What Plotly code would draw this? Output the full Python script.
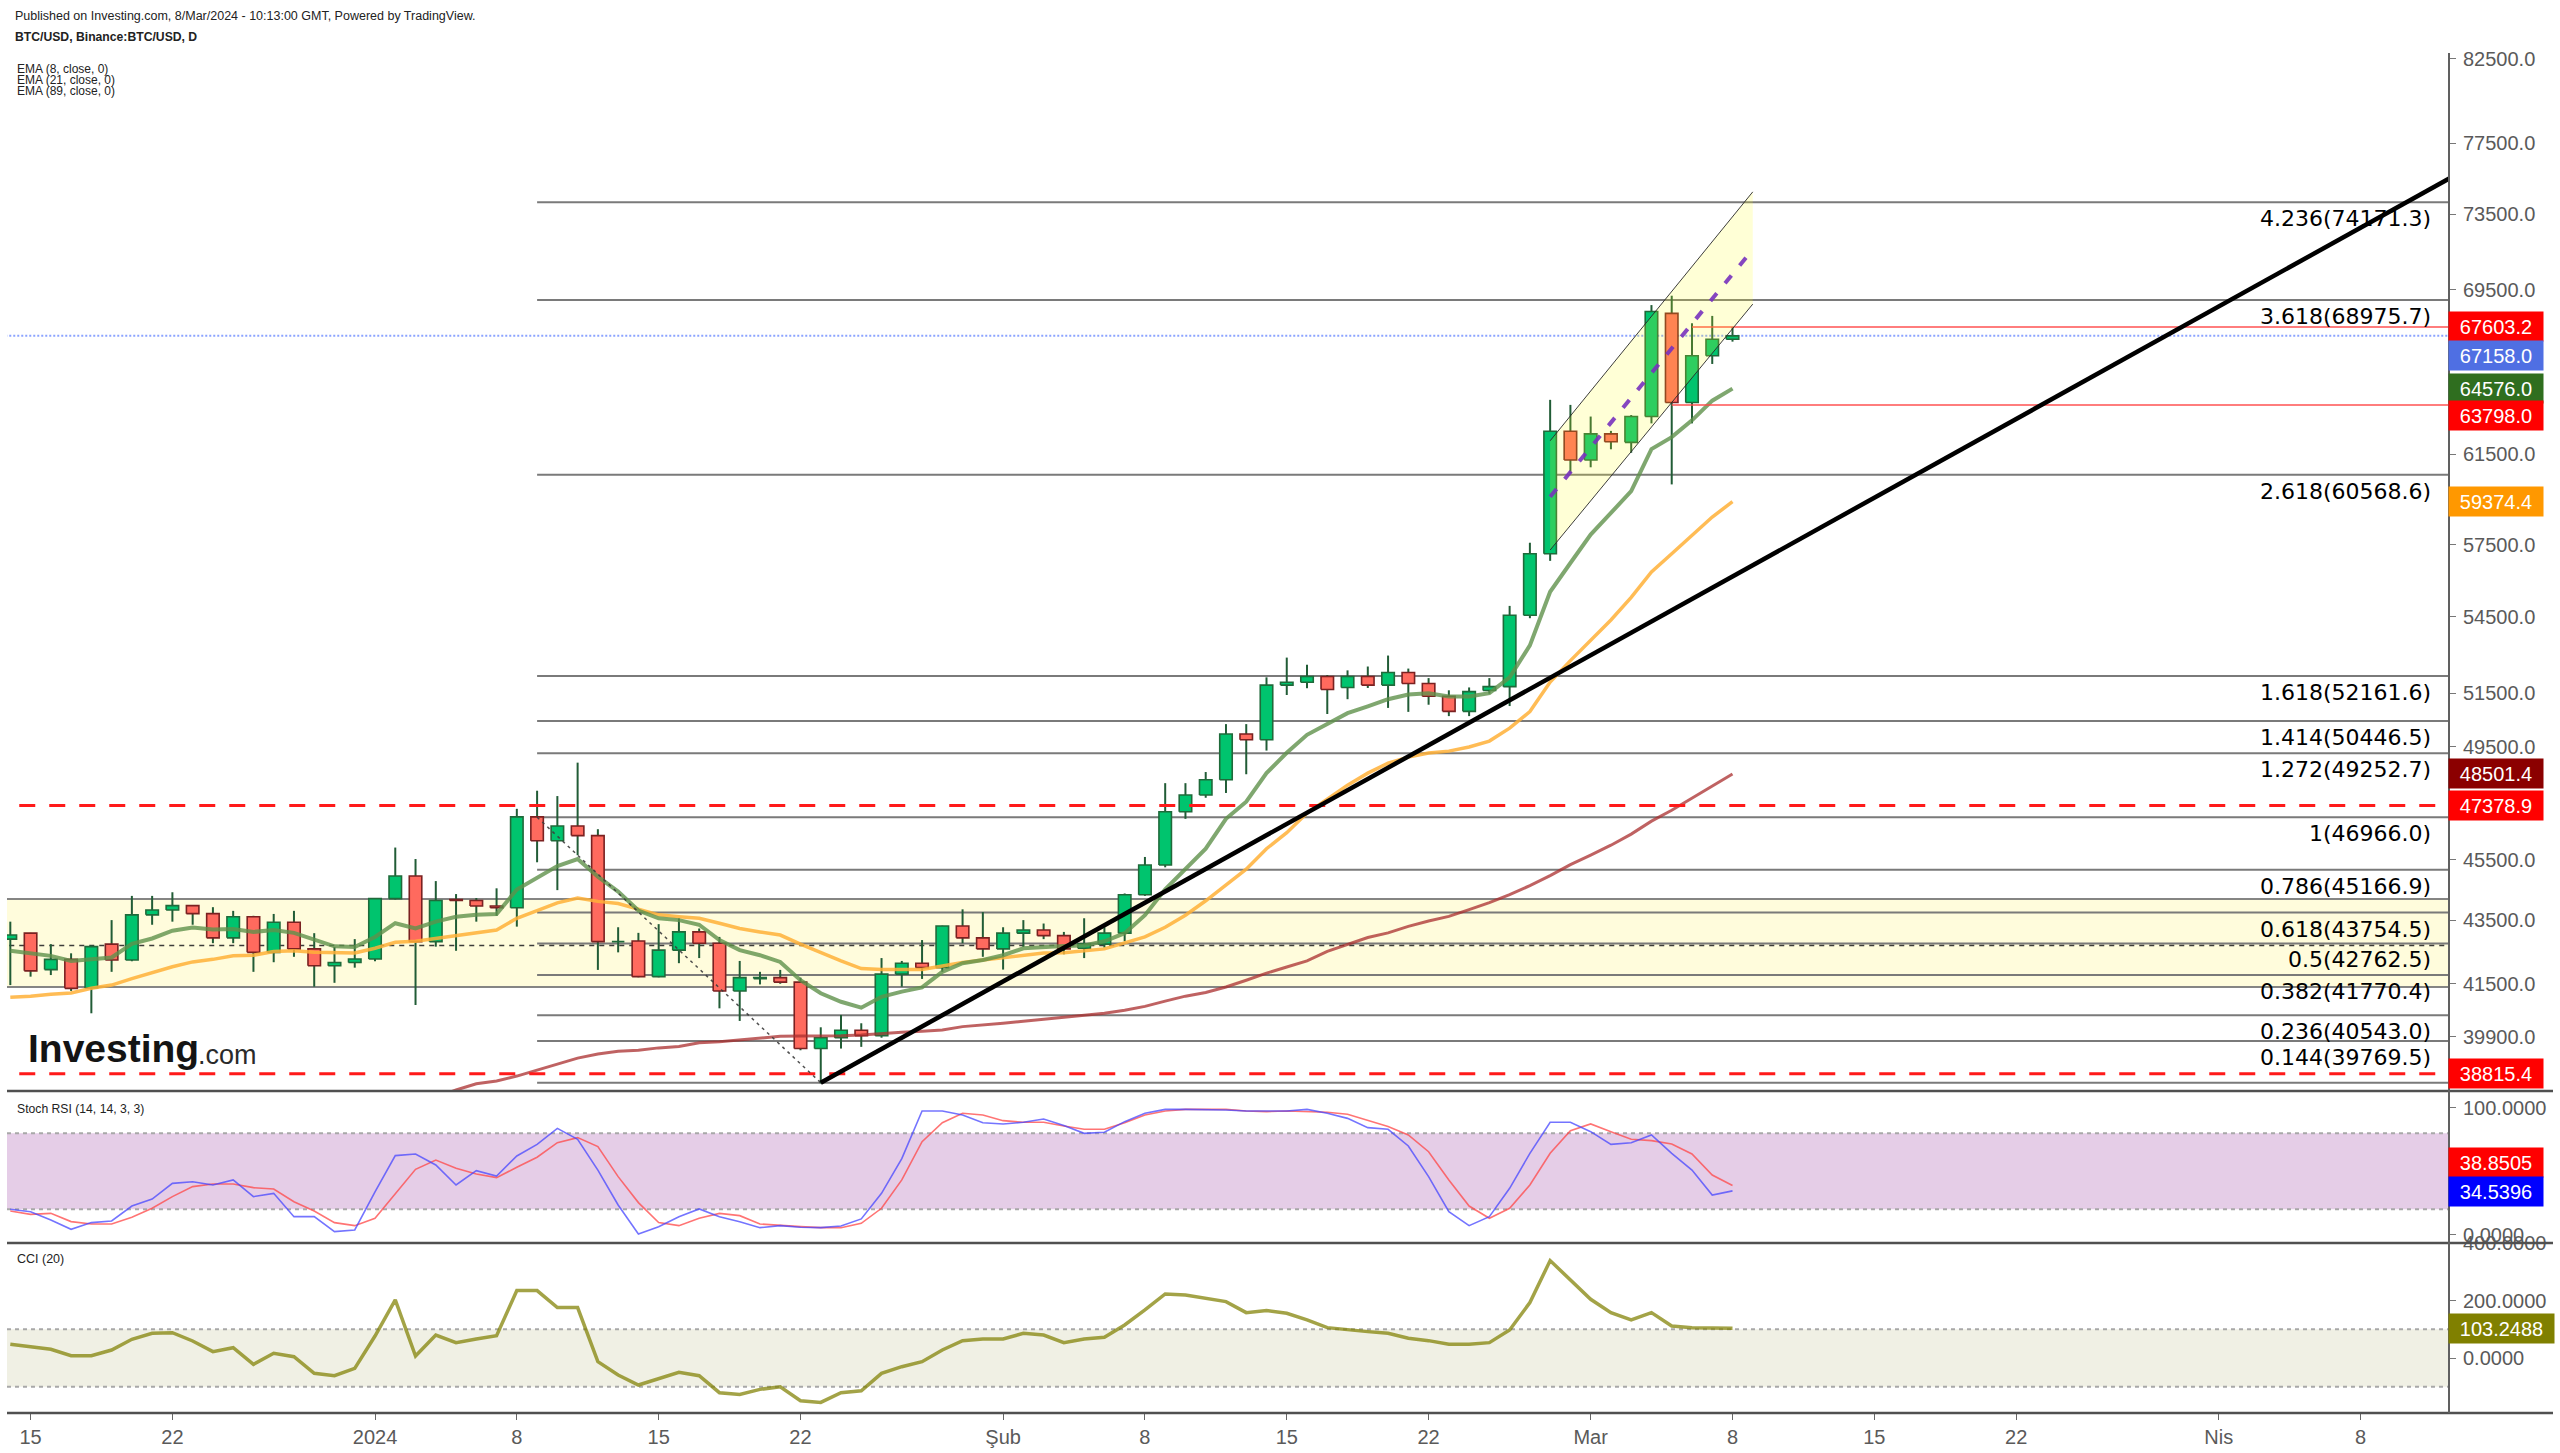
import math
import numpy as np
import pandas as pd
import plotly.graph_objects as go

W, H = 2560, 1453

# ---------------- data ----------------
dates = pd.date_range('2023-12-14', '2024-03-08', freq='D')

open_ = [42900, 43090, 41940, 42260, 41370, 42740, 42240, 43680, 43840, 43980,
         43720, 42940, 43620, 42480, 43440, 42590, 42060, 42160, 42270, 44210,
         44960, 42820, 44180, 44150, 43970, 43910, 46980, 46150, 46660, 46330,
         42820, 42840, 41720, 42550, 43130, 42770, 41280, 41660, 41690, 41550,
         39550, 39870, 40090, 39930, 41800, 42140, 42000, 43320, 42940, 42590,
         43090, 43190, 43010, 42610, 42740, 43090, 44340, 45330, 47160, 47750,
         48290, 49960, 49750, 51810, 51920, 52140, 51720, 52140, 51810, 52300,
         51870, 51380, 50810, 51600, 51750, 54570, 57120, 62560, 61240, 62440,
         62050, 63250, 68290, 63910, 66170, 66990]
high = [43460, 43100, 42740, 42450, 42700, 43510, 44300, 44300, 44420, 44000,
        43930, 43810, 43650, 43710, 43810, 43090, 42650, 42900, 44230, 45920,
        45530, 44790, 44360, 44230, 44550, 47260, 47900, 47710, 48910, 46550,
        43280, 43100, 43380, 43570, 43240, 42970, 42210, 41870, 41930, 41690,
        40180, 40550, 40300, 42300, 42210, 42870, 43330, 43860, 43770, 43280,
        43510, 43400, 43130, 43570, 43280, 44380, 45600, 48170, 48170, 48570,
        50330, 50330, 52110, 52880, 52600, 52200, 52380, 52530, 52960, 52450,
        52080, 51610, 51720, 52080, 54950, 57590, 64040, 63800, 63250, 62580,
        63320, 68710, 69190, 67790, 68160, 67603]
low = [41460, 41720, 41770, 41280, 40600, 41870, 42200, 43360, 43460, 43360,
       42770, 42770, 41870, 42170, 42340, 41410, 41530, 42000, 42200, 44180,
       40850, 42660, 42530, 43460, 43650, 43300, 45420, 44490, 45660, 41930,
       42480, 41700, 41700, 42140, 42300, 40750, 40370, 41480, 41500, 39500,
       38540, 39550, 39600, 39870, 41410, 41650, 41870, 42770, 42340, 41940,
       42650, 42900, 42420, 42300, 42630, 42830, 44300, 45250, 46910, 47650,
       47820, 48490, 49350, 51430, 51690, 50710, 51270, 51700, 50940, 50790,
       51060, 50630, 50630, 51480, 51010, 54450, 56820, 60640, 60910, 61730,
       61570, 62930, 60140, 62930, 65770, 66870]
close = [43030, 41900, 42260, 41360, 42660, 42240, 43680, 43840, 43980, 43720,
         42940, 43620, 42480, 43440, 42590, 42060, 42160, 42270, 44210, 44960,
         42820, 44150, 44150, 43970, 43910, 46980, 46150, 46660, 46330, 42820,
         42840, 41720, 42550, 43130, 42770, 41280, 41690, 41690, 41550, 39550,
         39870, 40090, 39930, 41800, 42140, 42000, 43320, 42940, 42590, 43090,
         43190, 43010, 42590, 42750, 43090, 44340, 45330, 47160, 47750, 48290,
         49960, 49750, 51810, 51920, 52140, 51640, 52140, 51810, 52300, 51870,
         51380, 50810, 51560, 51750, 54570, 57120, 62560, 61240, 62440, 62080,
         63250, 68380, 63910, 66170, 66990, 67158]

ema8 = [42530, 42450, 42370, 42210, 42260, 42320, 42750, 42920, 43170, 43270,
        43210, 43220, 43130, 43190, 43100, 42870, 42670, 42650, 42970, 43410,
        43240, 43460, 43620, 43680, 43710, 44510, 44890, 45290, 45530, 44940,
        44440, 43820, 43570, 43510, 43360, 42870, 42550, 42390, 42180, 41610,
        41210, 40950, 40770, 41100, 41260, 41390, 41870, 42140, 42240, 42390,
        42610, 42660, 42680, 42700, 42830, 43090, 43670, 44520, 45190, 45880,
        46910, 47510, 48530, 49270, 49930, 50330, 50740, 51000, 51270, 51450,
        51500, 51370, 51370, 51500, 52110, 53360, 55530, 56730, 57940, 58880,
        59840, 61740, 62290, 63070, 64000, 64576]
ema21 = [41090, 41120, 41180, 41220, 41360, 41460, 41660, 41850, 42030, 42180,
         42260, 42370, 42390, 42510, 42530, 42480, 42460, 42460, 42610, 42800,
         42830, 42920, 43010, 43120, 43190, 43570, 43820, 44070, 44230, 44120,
         44050, 43850, 43680, 43620, 43570, 43410, 43240, 43130, 43030, 42740,
         42460, 42210, 41970, 41940, 41940, 41940, 42050, 42160, 42240, 42320,
         42390, 42460, 42470, 42530, 42590, 42780, 42970, 43280, 43670, 44140,
         44650, 45190, 45880, 46430, 47110, 47610, 48100, 48530, 48890, 49110,
         49260, 49330, 49480, 49700, 50180, 50800, 51930, 52760, 53560, 54380,
         55300, 56350, 57120, 57910, 58700, 59374]
ema89_dates = pd.date_range('2024-01-03', '2024-03-08', freq='D')
ema89 = [37950, 38160, 38350, 38530, 38610, 38750, 38920, 39100, 39270, 39390,
         39470, 39500, 39570, 39610, 39720, 39750, 39810, 39870, 39910, 39920,
         39920, 39930, 39950, 40000, 40030, 40060, 40100, 40200, 40240, 40300,
         40360, 40420, 40480, 40540, 40600, 40690, 40810, 40970, 41120, 41230,
         41400, 41610, 41830, 42020, 42210, 42510, 42730, 42950, 43100, 43310,
         43480, 43630, 43850, 44080, 44340, 44640, 44970, 45340, 45660, 46000,
         46380, 46830, 47210, 47630, 48060, 48501]

stoch_k = [20.0, 18.1, 11.6, 4.2, 9.5, 10.8, 22.6, 28.1, 40.5, 41.8,
           39.2, 43.2, 30.0, 32.6, 14.2, 14.2, 2.4, 3.7, 33.7, 62.4,
           63.7, 55.0, 39.2, 50.5, 46.3, 62.1, 71.3, 83.9, 75.3, 51.0,
           23.4, 0.5, 6.3, 14.2, 20.3, 14.2, 10.2, 5.5, 7.1, 5.8,
           5.5, 6.8, 12.4, 32.6, 60.0, 97.6, 97.6, 94.5, 88.4, 87.4,
           88.7, 91.3, 86.1, 80.0, 80.8, 89.2, 95.8, 98.9, 98.9, 98.9,
           98.4, 97.6, 97.6, 97.6, 98.9, 95.8, 91.8, 84.5, 83.2, 70.0,
           45.8, 18.1, 7.1, 14.2, 36.6, 64.2, 88.7, 88.7, 81.3, 71.3,
           72.6, 78.7, 64.2, 51.0, 31.3, 34.54]
stoch_d = [18.7, 16.0, 16.8, 10.3, 8.4, 8.4, 13.7, 20.8, 30.0, 37.9,
           40.0, 40.0, 37.1, 36.0, 26.0, 18.7, 9.5, 7.1, 12.9, 32.6,
           51.6, 58.9, 52.4, 47.9, 45.0, 53.2, 61.1, 72.6, 76.6, 69.5,
           45.8, 25.3, 9.5, 7.1, 12.9, 16.8, 15.0, 8.4, 7.1, 6.3,
           5.5, 5.5, 8.9, 20.8, 43.2, 73.4, 88.4, 95.8, 94.5, 90.0,
           88.7, 88.7, 85.8, 83.2, 83.2, 88.4, 94.5, 97.6, 98.9, 98.9,
           98.9, 97.6, 97.1, 97.6, 97.1, 96.6, 95.0, 90.0, 85.3, 78.7,
           65.5, 43.2, 22.6, 12.9, 20.8, 39.2, 64.2, 82.1, 87.4, 81.3,
           75.3, 74.2, 71.6, 63.7, 47.1, 38.85]
cci = [47.7, 39.5, 30.2, 8.1, 8.1, 27.9, 65.1, 86.0, 88.4, 59.3,
       22.1, 36.0, -22.1, 16.3, 4.7, -53.5, -61.6, -36.0, 76.7, 202.3,
       7.0, 80.2, 53.5, 66.3, 77.9, 234.9, 234.9, 175.6, 175.6, -12.8,
       -59.3, -94.2, -73.3, -50.0, -61.6, -120.9, -126.7, -109.3, -100.0, -148.8,
       -154.7, -120.9, -114.0, -53.5, -30.2, -12.8, 27.9, 60.5, 66.3, 66.3,
       86.0, 80.2, 53.5, 66.3, 72.1, 115.1, 167.4, 223.3, 219.8, 208.1,
       196.5, 158.1, 165.1, 155.8, 132.6, 105.8, 97.7, 91.9, 86.0, 68.6,
       60.5, 47.7, 47.7, 53.5, 97.7, 193.0, 339.5, 272.1, 204.7, 158.1,
       132.6, 158.1, 111.6, 105.8, 105.8, 103.25]

fib_labels = ['4.236(74171.3)', '3.618(68975.7)', '2.618(60568.6)', '1.618(52161.6)',
              '1.414(50446.5)', '1.272(49252.7)', '1(46966.0)', '0.786(45166.9)',
              '0.618(43754.5)', '0.5(42762.5)', '0.382(41770.4)', '0.236(40543.0)',
              '0.144(39769.5)', '0(38559.0)']
fib_values = [74171.3, 68975.7, 60568.6, 52161.6, 50446.5, 49252.7, 46966.0, 45166.9,
              43754.5, 42762.5, 41770.4, 40543.0, 39769.5, 38559.0]
fib_start = '2024-01-09'
far_left = '2023-12-10'
far_right = '2024-04-14'

red_dashed_levels = [47378.9, 38815.4]
last_price = 67158.0
recent_high, recent_high_start = 67603.2, '2024-03-06'
recent_low, recent_low_start = 63798.0, '2024-03-05'
dotted_level = 42700
box_low, box_high = 41400, 44200

trend_dates = ['2024-01-23', '2024-04-13']
trend_prices = [38559, 75880]
fib_diag_dates = ['2024-01-09', '2024-01-23']
fib_diag_prices = [46966, 38559]
chan_dates = ['2024-02-28', '2024-03-09']
chan_upper = [62120, 74740]
chan_lower = [57280, 68760]
chan_mid = [59590, 71610]

main_ticks = [82500, 77500, 73500, 69500, 61500, 57500, 54500, 51500, 49500, 45500, 43500, 41500, 39900]
x_tick_dates = ['2023-12-15', '2023-12-22', '2024-01-01', '2024-01-08', '2024-01-15', '2024-01-22',
                '2024-02-01', '2024-02-08', '2024-02-15', '2024-02-22', '2024-03-01', '2024-03-08',
                '2024-03-15', '2024-03-22', '2024-04-01', '2024-04-08']
x_tick_text = ['15', '22', '2024', '8', '15', '22', 'Şub', '8', '15', '22', 'Mar', '8', '15', '22', 'Nis', '8']

# price tags on right axis: (text, value at which tag is centred, bg colour)
tags_main = [('67603.2', 67603.2, '#ff0000'), ('67158.0', 66190, '#4f6fe3'),
             ('64576.0', 64576.0, '#2f6e1f'), ('63798.0', 63280, '#ff0000'),
             ('59374.4', 59374.4, '#ff9800'), ('48501.4', 48501.4, '#8b0000'),
             ('47378.9', 47378.9, '#ff0000'), ('38815.4', 38815.4, '#ff0000')]
tags_stoch = [('38.8505', 57.0, '#ff0000'), ('34.5396', 34.0, '#0000ff')]
tags_cci = [('103.2488', 103.25, '#808000')]

# ---------------- helpers ----------------
def yp(ypx):
    return 1 - ypx / H

X0, X1 = 7, 2449
xdom = [X0 / W, X1 / W]
AX = '#5a5a5a'
FONT = 'Liberation Sans, Arial, sans-serif'
BODY_HALF = pd.Timedelta(hours=7.4)   # half candle-body width (style)

fig = go.Figure()

def line_tr(x, y, color, width, dash='solid', xa='x', ya='y'):
    fig.add_trace(go.Scatter(x=x, y=y, mode='lines', line=dict(color=color, width=width, dash=dash),
                             xaxis=xa, yaxis=ya, hoverinfo='skip', showlegend=False))

# yellow zone box (behind)
fig.add_trace(go.Scatter(x=[far_left, far_right, far_right, far_left, far_left],
                         y=[box_low, box_low, box_high, box_high, box_low], fill='toself',
                         fillcolor='#fffcdc', line=dict(color='rgba(120,120,120,0.9)', width=2),
                         mode='lines', hoverinfo='skip', showlegend=False))

# fib levels
for v in fib_values:
    line_tr([fib_start, far_right], [v, v], 'rgba(115,115,115,0.95)', 2)

# dotted horizontal and blue last price
line_tr([far_left, far_right], [dotted_level, dotted_level], 'rgba(40,40,40,0.9)', 1.5, '5px,5px')
line_tr([far_left, far_right], [last_price, last_price], 'rgba(110,140,255,0.8)', 2, '2px,2px')

# wicks
wx, wy = [], []
for d, lo, hi in zip(dates, low, high):
    wx += [d, d, None]
    wy += [lo, hi, None]
fig.add_trace(go.Scatter(x=wx, y=wy, mode='lines', line=dict(color='#215c36', width=2),
                         hoverinfo='skip', showlegend=False))

# bodies as filled rectangles
for up, fill, edge in ((True, '#00c46e', '#1f6a3a'), (False, '#ff6a5e', '#7a2121')):
    bx, by = [], []
    for d, o, c in zip(dates, open_, close):
        if (c >= o) != up:
            continue
        lo, hi = min(o, c), max(o, c)
        bx += [d - BODY_HALF, d + BODY_HALF, d + BODY_HALF, d - BODY_HALF, d - BODY_HALF, None]
        by += [lo, lo, hi, hi, lo, None]
    fig.add_trace(go.Scatter(x=bx, y=by, mode='lines', fill='toself', fillcolor=fill,
                             line=dict(color=edge, width=1.6), hoverinfo='skip', showlegend=False))

# EMAs
line_tr(ema89_dates, ema89, 'rgba(170,45,45,0.75)', 3)
line_tr(dates, ema21, 'rgba(255,176,55,0.85)', 3.5)
line_tr(dates, ema8, 'rgba(95,145,75,0.8)', 4)

# red dashed + recent levels
for v in red_dashed_levels:
    line_tr([far_left, far_right], [v, v], '#ff1a1a', 3, '16px,14px')
line_tr([recent_high_start, far_right], [recent_high, recent_high], 'rgba(255,70,70,0.7)', 2)
line_tr([recent_low_start, far_right], [recent_low, recent_low], 'rgba(255,70,70,0.7)', 2)

# trend lines
line_tr(fib_diag_dates, fib_diag_prices, 'rgba(60,60,60,0.9)', 1.5, '3px,4px')
line_tr(trend_dates, trend_prices, '#000000', 4.5)

# rising channel (overlay)
fig.add_trace(go.Scatter(x=[chan_dates[0], chan_dates[1], chan_dates[1], chan_dates[0], chan_dates[0]],
                         y=[chan_lower[0], chan_lower[1], chan_upper[1], chan_upper[0], chan_lower[0]],
                         fill='toself', fillcolor='rgba(255,255,30,0.18)', line=dict(width=0),
                         mode='lines', hoverinfo='skip', showlegend=False))
line_tr(chan_dates, chan_upper, 'rgba(40,40,40,0.9)', 1)
line_tr(chan_dates, chan_lower, 'rgba(40,40,40,0.9)', 1)
line_tr(chan_dates, chan_mid, 'rgba(120,50,190,0.9)', 4, '10px,13px')

# stoch RSI
line_tr(dates, stoch_d, 'rgba(255,70,70,0.75)', 1.6, xa='x2', ya='y2')
line_tr(dates, stoch_k, 'rgba(70,70,255,0.75)', 1.6, xa='x2', ya='y2')
# CCI
line_tr(dates, cci, 'rgba(128,128,0,0.72)', 3.5, xa='x3', ya='y3')

# ---------------- layout ----------------
xr = ['2023-12-13 20:05', '2024-04-12 08:43']
shapes = []
shapes.append(dict(type='rect', xref='paper', yref='y2', x0=xdom[0], x1=xdom[1], y0=20, y1=80,
                   fillcolor='#e5cde7', line=dict(width=0), layer='below'))
for v in (20, 80):
    shapes.append(dict(type='line', xref='paper', yref='y2', x0=xdom[0], x1=xdom[1], y0=v, y1=v,
                       line=dict(color='#a8a8a8', width=2, dash='4px,4px'), layer='below'))
shapes.append(dict(type='rect', xref='paper', yref='y3', x0=xdom[0], x1=xdom[1], y0=-100, y1=100,
                   fillcolor='#f0f0e4', line=dict(width=0), layer='below'))
for v in (-100, 100):
    shapes.append(dict(type='line', xref='paper', yref='y3', x0=xdom[0], x1=xdom[1], y0=v, y1=v,
                       line=dict(color='#a8a8a8', width=2, dash='4px,4px'), layer='below'))
for ypx in (1091, 1243, 1413):
    shapes.append(dict(type='line', xref='paper', yref='paper', x0=X0 / W, x1=2553 / W,
                       y0=yp(ypx), y1=yp(ypx), line=dict(color='#505050', width=2.5)))
shapes.append(dict(type='line', xref='paper', yref='paper', x0=X1 / W, x1=X1 / W,
                   y0=yp(1413), y1=yp(53), line=dict(color='#606060', width=2)))

ann = []
def txt(x, y, s, size, color='#222', family=FONT, bold=False):
    ann.append(dict(xref='paper', yref='paper', x=x / W, y=yp(y), text=('<b>%s</b>' % s) if bold else s,
                    showarrow=False, xanchor='left', yanchor='middle',
                    font=dict(size=size, color=color, family=family)))

txt(13, 16, 'Published on Investing.com, 8/Mar/2024 - 10:13:00 GMT, Powered by TradingView.', 12.5)
txt(13, 37, 'BTC/USD, Binance:BTC/USD, D', 12.2, bold=True)
txt(15, 69, 'EMA (8, close, 0)', 12)
txt(15, 80, 'EMA (21, close, 0)', 12)
txt(15, 91, 'EMA (89, close, 0)', 12)
txt(15, 1109, 'Stoch RSI (14, 14, 3, 3)', 12.2)
txt(15, 1259, 'CCI (20)', 12.5)
txt(26, 1048, 'Investing', 39, color='#141414', bold=True)
txt(196, 1055, '.com', 27, color='#2a2a2a')

for lab, v in zip(fib_labels, fib_values):
    if v < 38700:
        continue
    ann.append(dict(xref='paper', yref='y', x=2433 / W, y=math.log10(v), text=lab, showarrow=False,
                    xanchor='right', yanchor='top', yshift=-2,
                    font=dict(size=22, color='#000000', family='DejaVu Sans, Verdana, sans-serif')))

def tag(s, yv, color, yref, logy=False, wide=False):
    ann.append(dict(xref='paper', yref=yref, x=2448 / W, y=math.log10(yv) if logy else yv, text=s,
                    showarrow=False, xanchor='left', yanchor='middle', bgcolor=color,
                    width=101 if wide else 90, height=25, borderpad=2, align='center',
                    font=dict(size=20, color='#ffffff', family=FONT)))

for s, v, c in tags_main:
    tag(s, v, c, 'y', logy=True)
for s, v, c in tags_stoch:
    tag(s, v, c, 'y2')
for s, v, c in tags_cci:
    tag(s, v, c, 'y3', wide=True)

common_x = dict(domain=xdom, type='date', range=xr, showgrid=False, zeroline=False,
                showline=False, automargin=False)
tickfont = dict(size=20, color=AX, family=FONT)
common_y = dict(side='right', showgrid=False, zeroline=False, tickmode='array', ticks='outside',
                ticklen=6, tickcolor='#777', tickfont=tickfont, ticklabelstandoff=3, automargin=False)

fig.update_layout(
    width=W, height=H, autosize=False,
    margin=dict(l=0, r=0, t=0, b=0, pad=0),
    paper_bgcolor='white', plot_bgcolor='white',
    showlegend=False, hovermode=False,
    xaxis=dict(**common_x, anchor='y', showticklabels=False, rangeslider=dict(visible=False)),
    xaxis2=dict(**common_x, anchor='y2', matches='x', showticklabels=False),
    xaxis3=dict(**common_x, anchor='y3', matches='x', tickmode='array', tickvals=x_tick_dates,
                ticktext=x_tick_text, ticks='outside', ticklen=6, tickcolor='#666', tickfont=tickfont),
    yaxis=dict(**common_y, domain=[yp(1090), yp(53)], type='log',
               range=[math.log10(38351), math.log10(82862)], anchor='x',
               tickvals=main_ticks, ticktext=['%.1f' % v for v in main_ticks]),
    yaxis2=dict(**common_y, domain=[yp(1243), yp(1090)], range=[-6.6, 114.2], anchor='x2',
                tickvals=[0, 100], ticktext=['0.0000', '100.0000']),
    yaxis3=dict(**common_y, domain=[yp(1413), yp(1243)], range=[-191.6, 400.7], anchor='x3',
                tickvals=[0, 200, 400], ticktext=['0.0000', '200.0000', '400.0000']),
    shapes=shapes, annotations=ann,
)

fig.write_html('out.html')
